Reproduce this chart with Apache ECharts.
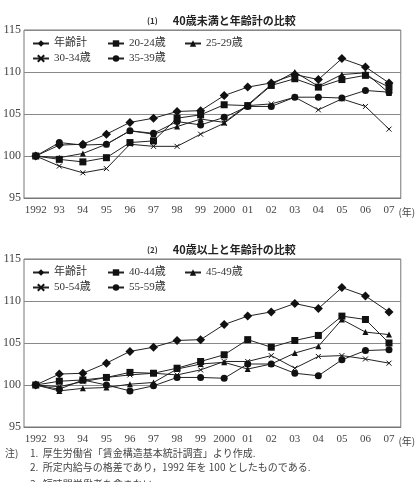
<!DOCTYPE html>
<html lang="ja">
<head>
<meta charset="UTF-8">
<title>所定内給与の格差</title>
<script src="https://cdn.jsdelivr.net/npm/echarts@6/dist/echarts.min.js"></script>
<style>
    html, body { margin: 0; padding: 0; background: #fff; }
    #main { width: 416px; height: 482px; }
</style>
</head>
<body>
<div id="main"></div>
<script type="text/javascript">
    // 年 (1992 = 100)
    var years = ['1992', '93', '94', '95', '96', '97', '98', '99', '2000', '01', '02', '03', '04', '05', '06', '07'];
    var yTicks = [95, 100, 105, 110, 115];

    // 年齢計 (両方のグラフ共通)
    var total = [100, 101.3, 101.4, 102.6, 104.0, 104.5, 105.3, 105.4, 107.2, 108.2, 108.7, 109.7, 109.1, 111.6, 110.6, 108.7];

    // (1) 40歳未満
    var age20_24 = [100, 99.6, 99.3, 99.8, 101.6, 101.8, 104.5, 104.9, 106.1, 106.0, 108.4, 109.2, 108.2, 109.1, 109.6, 108.2];
    var age25_29 = [100, 99.8, 100.3, 101.4, 103.0, 102.6, 103.5, 104.4, 104.0, 106.1, 108.5, 110.0, 108.3, 109.7, 109.9, 107.5];
    var age30_34 = [100, 98.8, 98.0, 98.5, 101.4, 101.15, 101.15, 102.6, 103.9, 106.0, 106.2, 107.0, 105.5, 106.8, 105.9, 103.2];
    var age35_39 = [100, 101.6, 101.3, 101.4, 103.0, 102.7, 104.1, 103.7, 104.6, 105.9, 105.9, 107.0, 107.0, 106.9, 107.8, 107.6];

    // (2) 40歳以上
    var age40_44 = [100, 100.45, 100.6, 100.9, 101.5, 101.4, 102.0, 102.8, 103.6, 105.4, 104.5, 105.3, 105.9, 108.2, 107.8, 105.0];
    var age45_49 = [100, 99.3, 99.6, 99.7, 100.1, 100.3, 101.9, 102.5, 102.7, 101.9, 102.5, 103.8, 104.6, 107.8, 106.3, 106.0];
    var age50_54 = [100, 99.8, 100.4, 100.9, 101.2, 101.4, 101.2, 101.8, 102.8, 102.8, 103.5, 102.0, 103.4, 103.5, 103.1, 102.6];
    var age55_59 = [100, 99.5, 100.6, 100.0, 99.3, 99.9, 100.9, 100.9, 100.8, 102.5, 102.5, 101.4, 101.1, 103.0, 104.1, 104.2];

    var SERIF = '"Liberation Serif", "DejaVu Serif", "Noto Sans CJK JP", serif';
    var CJK = '"Noto Sans CJK JP", sans-serif';
    var X_MARK = 'path://M0,0L10,10M10,0L0,10';

    var chart = echarts.init(document.getElementById('main'));

    function makeSeries(name, data, symbol, size, idx) {
        return {
            name: name,
            type: 'line',
            xAxisIndex: idx,
            yAxisIndex: idx,
            data: data,
            symbol: symbol,
            symbolSize: size,
            showSymbol: true,
            animation: false,
            lineStyle: { color: '#222', width: 1 },
            itemStyle: {
                color: '#111',
                borderColor: '#111',
                borderWidth: symbol === X_MARK ? 1 : 0
            }
        };
    }

    function makeLegend(name, left, top) {
        return {
            data: [name],
            left: left,
            top: top,
            itemWidth: 16,
            itemHeight: 8,
            padding: 0,
            selectedMode: false,
            textStyle: { fontFamily: SERIF, fontSize: 11, color: '#333' }
        };
    }

    function xAxisFor(idx) {
        return {
            type: 'category',
            gridIndex: idx,
            data: years,
            boundaryGap: true,
            name: '(年)',
            nameLocation: 'end',
            nameGap: 0,
            nameTextStyle: { fontFamily: CJK, fontSize: 10, color: '#444', verticalAlign: 'top', padding: [9, 0, 0, -4] },
            axisLine: { lineStyle: { color: '#777' } },
            axisTick: { inside: true, length: 5, lineStyle: { color: '#555' } },
            axisLabel: { interval: 0, hideOverlap: false, fontFamily: SERIF, fontSize: 11, color: '#444', margin: 7 }
        };
    }

    function yAxisFor(idx) {
        return {
            type: 'value',
            gridIndex: idx,
            min: yTicks[0],
            max: yTicks[yTicks.length - 1],
            interval: 5,
            axisLine: { show: false },
            axisTick: { show: false },
            axisLabel: { fontFamily: SERIF, fontSize: 12, color: '#444', margin: 3 },
            splitLine: { lineStyle: { color: '#888', width: 1 } }
        };
    }

    var noteStyle = { fontFamily: CJK, fontSize: 10, fontWeight: 'normal', color: '#444' };
    var titleRich = {
        a: { fontFamily: CJK, fontSize: 8, color: '#333' },
        b: { fontFamily: CJK, fontSize: 11, fontWeight: 'bold', color: '#222' }
    };

    chart.setOption({
        backgroundColor: '#fff',
        animation: false,
        title: [
            { text: '{a|(1)}   {b|40歳未満と年齢計の比較}', left: 142, top: 7, textStyle: { rich: titleRich } },
            { text: '{a|(2)}   {b|40歳以上と年齢計の比較}', left: 142, top: 236, textStyle: { rich: titleRich } },
            { text: '注)', left: 0, top: 443, textStyle: noteStyle },
            { text: '1.  厚生労働省「賃金構造基本統計調査」より作成.', left: 25, top: 443, textStyle: noteStyle },
            { text: '2.  所定内給与の格差であり，1992 年を 100 としたものである.', left: 25, top: 457, textStyle: noteStyle },
            { text: '3.  短時間労働者を含まない.', left: 25, top: 474, textStyle: noteStyle }
        ],
        legend: [
            makeLegend('年齢計', 32, 38),
            makeLegend('20-24歳', 107, 38),
            makeLegend('25-29歳', 184, 38),
            makeLegend('30-34歳', 32, 53),
            makeLegend('35-39歳', 107, 53),
            makeLegend('年齢計', 32, 267),
            makeLegend('40-44歳', 107, 267),
            makeLegend('45-49歳', 184, 267),
            makeLegend('50-54歳', 32, 282),
            makeLegend('55-59歳', 107, 282)
        ],
        grid: [
            { left: 21, right: 13, top: 30, height: 168, show: true, borderColor: '#777', borderWidth: 1, containLabel: false },
            { left: 21, right: 13, top: 259, height: 168, show: true, borderColor: '#777', borderWidth: 1, containLabel: false }
        ],
        xAxis: [xAxisFor(0), xAxisFor(1)],
        yAxis: [yAxisFor(0), yAxisFor(1)],
        series: [
            makeSeries('年齢計', total, 'diamond', 9, 0),
            makeSeries('20-24歳', age20_24, 'rect', 7, 0),
            makeSeries('25-29歳', age25_29, 'triangle', 6, 0),
            makeSeries('30-34歳', age30_34, X_MARK, 5, 0),
            makeSeries('35-39歳', age35_39, 'circle', 7, 0),
            makeSeries('年齢計', total, 'diamond', 9, 1),
            makeSeries('40-44歳', age40_44, 'rect', 7, 1),
            makeSeries('45-49歳', age45_49, 'triangle', 6, 1),
            makeSeries('50-54歳', age50_54, X_MARK, 5, 1),
            makeSeries('55-59歳', age55_59, 'circle', 7, 1)
        ]
    });
</script>
</body>
</html>
